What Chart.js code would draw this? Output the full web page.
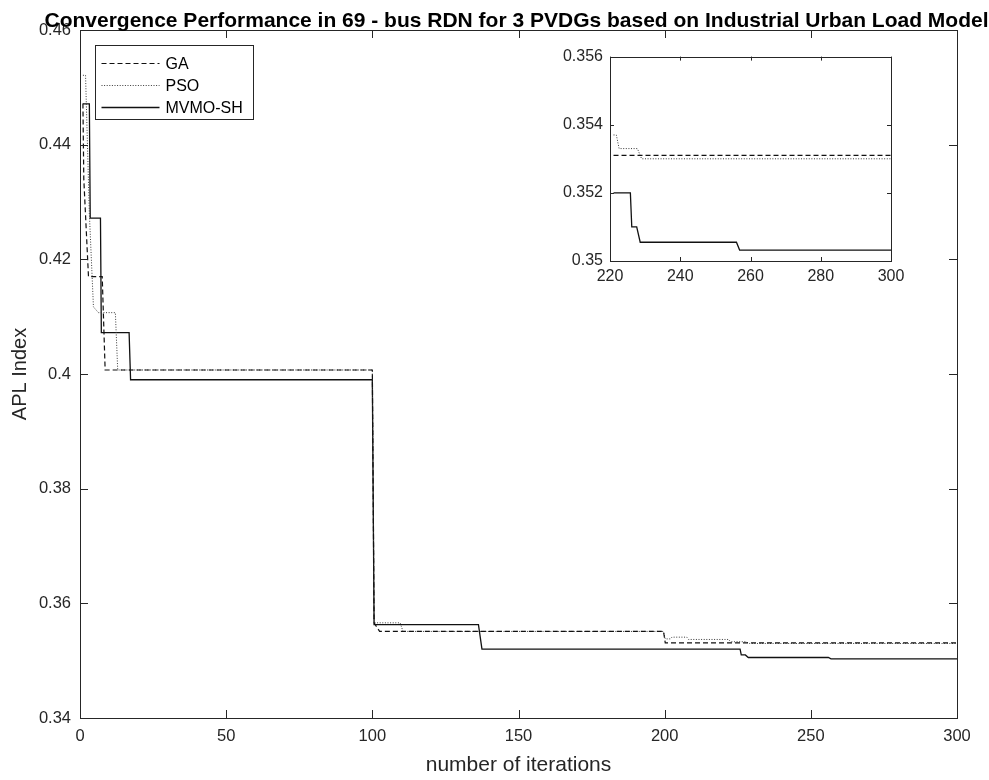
<!DOCTYPE html>
<html>
<head>
<meta charset="utf-8">
<script src="https://cdn.jsdelivr.net/npm/chart.js@4.4.1/dist/chart.umd.min.js"></script>
<style>
  html, body { margin: 0; padding: 0; background: #ffffff; }
  #wrap { position: relative; width: 989px; height: 780px; overflow: hidden; }
  #main { position: absolute; left: 0; top: 0; }
  #inset { position: absolute; left: 540px; top: 40px; }
</style>
</head>
<body>
<div id="wrap">
  <canvas id="main" width="989" height="780"></canvas>
  <canvas id="inset" width="380" height="255"></canvas>
</div>
<script>
// ---- data: APL index against iteration (break points of each convergence curve) ----
const chartTitle = 'Convergence Performance in 69 - bus RDN for 3 PVDGs based on Industrial Urban Load Model';
const xAxisTitle = 'number of iterations';
const yAxisTitle = 'APL Index';
const seriesNames = ['GA', 'PSO', 'MVMO-SH'];

const gaIter = [1, 1.3, 2.9, 7.6, 8.6, 100, 100.6, 102.5, 199.6, 200.2, 300];
const gaAPL  = [0.4472, 0.4340, 0.4170, 0.4170, 0.4007, 0.4007, 0.3566, 0.3551, 0.3551, 0.3531, 0.3531];

const psoIter = [1, 1.9, 3.2, 4.6, 6.3, 12.1, 12.9, 100, 100.6, 109.5, 110.5, 199.6, 200.2, 202.0, 202.5, 207.6, 208.2, 221.8, 222.6, 227.8, 229.0, 300];
const psoAPL  = [0.4521, 0.4521, 0.4280, 0.4117, 0.4107, 0.4107, 0.4007, 0.4007, 0.3566, 0.3566, 0.3551, 0.3551, 0.3538, 0.3538, 0.3541, 0.3541, 0.3537, 0.3537, 0.3533, 0.3533, 0.3530, 0.3530];

const mvmoIter = [1, 3.2, 3.5, 7.0, 7.3, 16.8, 17.3, 100, 100.6, 136.3, 137.5, 225.8, 226.2, 227.6, 228.6, 256.0, 256.9, 300];
const mvmoAPL  = [0.4471, 0.4471, 0.4272, 0.4272, 0.4072, 0.4072, 0.3990, 0.3990, 0.3563, 0.3563, 0.3520, 0.3520, 0.3510, 0.3510, 0.35055, 0.35055, 0.35032, 0.35032];

// axis ticks
const xTicks = [0, 50, 100, 150, 200, 250, 300];
const yTicks = [0.34, 0.36, 0.38, 0.40, 0.42, 0.44, 0.46];
const insetXTicks = [220, 240, 260, 280, 300];
const insetYTicks = [0.350, 0.352, 0.354, 0.356];
const insetFrom = 221;

// ---- helpers ----
const FONT = '"Liberation Sans", Arial, Helvetica, sans-serif';
const INK = '#262626';

function toPoints(iters, vals) {
  return iters.map((x, i) => ({ x: x, y: vals[i] }));
}
// points of a curve from a starting iteration on (start lies on a flat part)
function fromIteration(iters, vals, start) {
  const pts = [];
  for (let i = 0; i < iters.length; i++) {
    if (iters[i] < start && i + 1 < iters.length && iters[i + 1] > start) pts.push({ x: start, y: vals[i] });
    if (iters[i] >= start) pts.push({ x: iters[i], y: vals[i] });
  }
  return pts;
}

const lineStyles = [
  { borderColor: '#111111', borderWidth: 1.2, borderDash: [5, 3] },
  { borderColor: '#3a3a3a', borderWidth: 1.0, borderDash: [1, 1.6] },
  { borderColor: '#111111', borderWidth: 1.3, borderDash: [] }
];
const curves = [[gaIter, gaAPL], [psoIter, psoAPL], [mvmoIter, mvmoAPL]];

function makeDatasets(pointsFn) {
  return curves.map((c, i) => Object.assign({
    label: seriesNames[i],
    data: pointsFn(c[0], c[1]),
    pointRadius: 0,
    pointHoverRadius: 0,
    tension: 0,
    fill: false
  }, lineStyles[i]));
}

// frame with inward tick marks on all four sides
const boxFrame = {
  id: 'boxFrame',
  beforeDraw(chart) {
    const { ctx, chartArea: a } = chart;
    ctx.save();
    ctx.fillStyle = '#ffffff';
    ctx.fillRect(a.left, a.top, a.right - a.left, a.bottom - a.top);
    ctx.restore();
  },
  afterDatasetsDraw(chart, args, o) {
    const { ctx, chartArea: a, scales } = chart;
    const len = o.tickLen;
    ctx.save();
    ctx.strokeStyle = o.color;
    ctx.lineWidth = 1;
    ctx.beginPath();
    scales.x.ticks.forEach(t => {
      const px = Math.round(scales.x.getPixelForValue(t.value)) + 0.5;
      ctx.moveTo(px, a.bottom); ctx.lineTo(px, a.bottom - len);
      ctx.moveTo(px, a.top); ctx.lineTo(px, a.top + len);
    });
    scales.y.ticks.forEach(t => {
      const py = Math.round(scales.y.getPixelForValue(t.value)) + 0.5;
      ctx.moveTo(a.left, py); ctx.lineTo(a.left + len, py);
      ctx.moveTo(a.right, py); ctx.lineTo(a.right - len, py);
    });
    ctx.stroke();
    ctx.strokeRect(Math.round(a.left) + 0.5, Math.round(a.top) + 0.5,
                   Math.round(a.right - a.left), Math.round(a.bottom - a.top));
    ctx.restore();
  }
};

// boxed legend inside the plot, top-left
const boxLegend = {
  id: 'boxLegend',
  afterDraw(chart, args, o) {
    if (!o.show) return;
    const { ctx, chartArea: a } = chart;
    const x0 = Math.round(a.left + o.offsetX) + 0.5, y0 = Math.round(a.top + o.offsetY) + 0.5;
    ctx.save();
    ctx.fillStyle = '#ffffff';
    ctx.fillRect(x0, y0, o.width, o.height);
    ctx.strokeStyle = INK;
    ctx.lineWidth = 1;
    ctx.strokeRect(x0, y0, o.width, o.height);
    ctx.font = o.font;
    ctx.textBaseline = 'middle';
    chart.data.datasets.forEach((ds, i) => {
      const yy = Math.round(y0 + o.firstRow + i * o.rowGap) + 0.5;
      ctx.strokeStyle = ds.borderColor;
      ctx.lineWidth = ds.borderWidth;
      ctx.setLineDash(ds.borderDash || []);
      ctx.beginPath();
      ctx.moveTo(x0 + o.lineFrom, yy);
      ctx.lineTo(x0 + o.lineTo, yy);
      ctx.stroke();
      ctx.setLineDash([]);
      ctx.fillStyle = '#000000';
      ctx.fillText(ds.label, x0 + o.textAt, yy + 1);
    });
    ctx.restore();
  }
};

// bold title centred over the plot area, sitting just above the frame
const plotTitle = {
  id: 'plotTitle',
  afterDraw(chart, args, o) {
    if (!o.text) return;
    const { ctx, chartArea: a } = chart;
    ctx.save();
    ctx.font = o.font;
    ctx.fillStyle = '#000000';
    ctx.textAlign = 'center';
    ctx.textBaseline = 'alphabetic';
    ctx.fillText(o.text, (a.left + a.right) / 2 + o.dx, a.top - o.gap);
    ctx.restore();
  }
};

function fixedTicks(values) {
  return function (scale) { scale.ticks = values.map(v => ({ value: v })); };
}

function axisOptions(cfg) {
  return {
    x: {
      type: 'linear',
      min: cfg.xMin, max: cfg.xMax,
      afterBuildTicks: fixedTicks(cfg.xTicks),
      afterFit: s => { s.height = cfg.xHeight; },
      grid: { display: false, drawTicks: false },
      border: { display: false },
      ticks: {
        autoSkip: false, maxRotation: 0, padding: cfg.xPad, color: INK,
        font: { family: FONT, size: cfg.tickSize },
        callback: v => String(v)
      },
      title: cfg.xTitle ? {
        display: true, text: cfg.xTitle, color: INK,
        font: { family: FONT, size: 21 }, padding: { top: 0, bottom: 2 }
      } : { display: false }
    },
    y: {
      type: 'linear',
      min: cfg.yMin, max: cfg.yMax,
      afterBuildTicks: fixedTicks(cfg.yTicks),
      afterFit: s => { s.width = cfg.yWidth; },
      grid: { display: false, drawTicks: false },
      border: { display: false },
      ticks: {
        autoSkip: false, padding: cfg.yPad, color: INK,
        font: { family: FONT, size: cfg.tickSize },
        callback: v => String(Number(v.toFixed(cfg.yDigits)))
      },
      title: cfg.yTitle ? {
        display: true, text: cfg.yTitle, color: INK,
        font: { family: FONT, size: 20 }, padding: { top: 8, bottom: 0 }
      } : { display: false }
    }
  };
}

// ---- main convergence plot ----
new Chart(document.getElementById('main'), {
  type: 'line',
  data: { datasets: makeDatasets(toPoints) },
  options: {
    responsive: false,
    animation: false,
    events: [],
    layout: { padding: { top: 30, right: 32, left: 0, bottom: 0 } },
    scales: axisOptions({
      xMin: 0, xMax: 300, xTicks: xTicks, xHeight: 62, xPad: 9, xTitle: xAxisTitle,
      yMin: 0.34, yMax: 0.46, yTicks: yTicks, yWidth: 80, yPad: 9, yDigits: 2, yTitle: yAxisTitle,
      tickSize: 16.5
    }),
    plugins: {
      legend: { display: false },
      tooltip: { enabled: false },
      boxFrame: { tickLen: 8, color: INK },
      boxLegend: {
        show: true, offsetX: 15, offsetY: 15, width: 158, height: 74,
        firstRow: 17, rowGap: 22, lineFrom: 6, lineTo: 64, textAt: 70,
        font: '16px ' + FONT
      },
      plotTitle: { text: chartTitle, font: 'bold 21px ' + FONT, gap: 3, dx: -2 }
    }
  },
  plugins: [boxFrame, boxLegend, plotTitle]
});

// ---- zoomed view of the final iterations ----
new Chart(document.getElementById('inset'), {
  type: 'line',
  data: { datasets: makeDatasets((it, v) => fromIteration(it, v, insetFrom)) },
  options: {
    responsive: false,
    animation: false,
    events: [],
    layout: { padding: { top: 12, right: 29, left: 0, bottom: 0 } },
    scales: axisOptions({
      xMin: 220, xMax: 300, xTicks: insetXTicks, xHeight: 34, xPad: 6,
      yMin: 0.350, yMax: 0.356, yTicks: insetYTicks, yWidth: 70, yPad: 7, yDigits: 3,
      tickSize: 16
    }),
    plugins: {
      legend: { display: false },
      tooltip: { enabled: false },
      boxFrame: { tickLen: 4, color: INK },
      boxLegend: { show: false },
      plotTitle: { text: '' }
    }
  },
  plugins: [boxFrame, boxLegend, plotTitle]
});
</script>
</body>
</html>
